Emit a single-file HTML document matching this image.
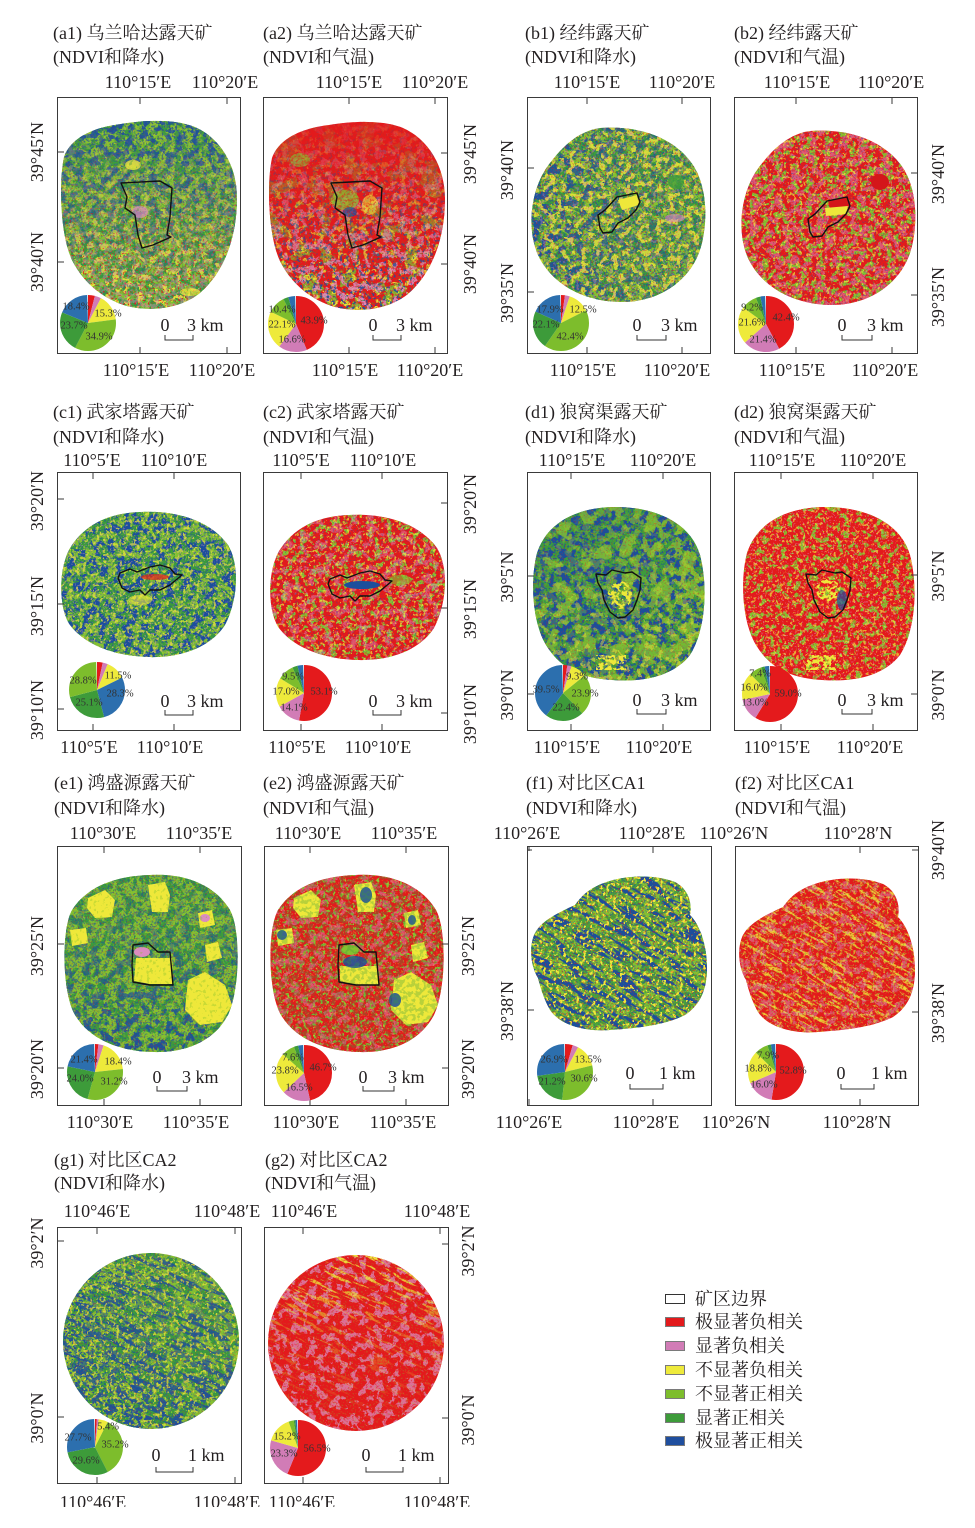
<!DOCTYPE html>
<html><head><meta charset="utf-8">
<style>
html,body{margin:0;padding:0;background:#fff}
svg{display:block}
text{font-family:"Liberation Serif","Noto Serif CJK SC",serif;font-size:18px;fill:#231f20}
.c{text-anchor:middle;dominant-baseline:central}
.l{dominant-baseline:central}
.p{font-size:10.5px;fill:#333;text-anchor:middle;dominant-baseline:central}
.fr{fill:none;stroke:#3a3a3a;stroke-width:1}
.tk{fill:none;stroke:#3a3a3a;stroke-width:1}
.mb{fill:none;stroke:#111;stroke-width:1.4;stroke-linejoin:round}
.sb{fill:none;stroke:#333;stroke-width:1}
</style></head><body>
<svg xmlns="http://www.w3.org/2000/svg" width="975" height="1528" viewBox="0 0 975 1528">
<defs>
<filter id="n1" x="0" y="0" width="1" height="1" color-interpolation-filters="sRGB"><feTurbulence type="fractalNoise" baseFrequency="0.12" numOctaves="4" seed="2"/><feColorMatrix type="matrix" values="0 0 0 0 0 0 0 0 0 0 0 0 0 0 0 30 0 0 0 -15" result="m"/><feComposite in="SourceGraphic" in2="m" operator="in"/></filter>
<filter id="n2" x="0" y="0" width="1" height="1" color-interpolation-filters="sRGB"><feTurbulence type="fractalNoise" baseFrequency="0.12" numOctaves="4" seed="2"/><feColorMatrix type="matrix" values="0 0 0 0 0 0 0 0 0 0 0 0 0 0 0 0 30 0 0 -16.2" result="m"/><feComposite in="SourceGraphic" in2="m" operator="in"/></filter>
<filter id="n3" x="0" y="0" width="1" height="1" color-interpolation-filters="sRGB"><feTurbulence type="fractalNoise" baseFrequency="0.16" numOctaves="3" seed="5"/><feColorMatrix type="matrix" values="0 0 0 0 0 0 0 0 0 0 0 0 0 0 0 0 0 30 0 -17.4" result="m"/><feComposite in="SourceGraphic" in2="m" operator="in"/></filter>
<filter id="n4" x="0" y="0" width="1" height="1" color-interpolation-filters="sRGB"><feTurbulence type="fractalNoise" baseFrequency="0.3" numOctaves="2" seed="9"/><feColorMatrix type="matrix" values="0 0 0 0 0 0 0 0 0 0 0 0 0 0 0 30 0 0 0 -18" result="m"/><feComposite in="SourceGraphic" in2="m" operator="in"/></filter>
<filter id="n5" x="0" y="0" width="1" height="1" color-interpolation-filters="sRGB"><feTurbulence type="fractalNoise" baseFrequency="0.05" numOctaves="4" seed="4"/><feColorMatrix type="matrix" values="0 0 0 0 0 0 0 0 0 0 0 0 0 0 0 0 30 0 0 -17.1" result="m"/><feComposite in="SourceGraphic" in2="m" operator="in"/></filter>
<filter id="n6" x="0" y="0" width="1" height="1" color-interpolation-filters="sRGB"><feTurbulence type="fractalNoise" baseFrequency="0.6" numOctaves="1" seed="12"/><feColorMatrix type="matrix" values="0 0 0 0 0 0 0 0 0 0 0 0 0 0 0 0 30 0 0 -18" result="m"/><feComposite in="SourceGraphic" in2="m" operator="in"/></filter>
<filter id="n8" x="0" y="0" width="1" height="1" color-interpolation-filters="sRGB"><feTurbulence type="fractalNoise" baseFrequency="0.25" numOctaves="3" seed="14"/><feColorMatrix type="matrix" values="0 0 0 0 0 0 0 0 0 0 0 0 0 0 0 0 0 30 0 -15" result="m"/><feComposite in="SourceGraphic" in2="m" operator="in"/></filter>
<filter id="n9" x="0" y="0" width="1" height="1" color-interpolation-filters="sRGB"><feTurbulence type="fractalNoise" baseFrequency="0.035 0.2" numOctaves="3" seed="21"/><feColorMatrix type="matrix" values="0 0 0 0 0 0 0 0 0 0 0 0 0 0 0 30 0 0 0 -16.2" result="m"/><feComposite in="SourceGraphic" in2="m" operator="in"/></filter>
<filter id="n10" x="0" y="0" width="1" height="1" color-interpolation-filters="sRGB"><feTurbulence type="fractalNoise" baseFrequency="0.035 0.2" numOctaves="3" seed="21"/><feColorMatrix type="matrix" values="0 0 0 0 0 0 0 0 0 0 0 0 0 0 0 0 30 0 0 -17.1" result="m"/><feComposite in="SourceGraphic" in2="m" operator="in"/></filter>
<filter id="n11" x="0" y="0" width="1" height="1" color-interpolation-filters="sRGB"><feTurbulence type="fractalNoise" baseFrequency="0.5" numOctaves="2" seed="31"/><feColorMatrix type="matrix" values="0 0 0 0 0 0 0 0 0 0 0 0 0 0 0 0 0 30 0 -16.8" result="m"/><feComposite in="SourceGraphic" in2="m" operator="in"/></filter>
<filter id="n12" x="0" y="0" width="1" height="1" color-interpolation-filters="sRGB"><feTurbulence type="fractalNoise" baseFrequency="0.04 0.28" numOctaves="3" seed="27"/><feColorMatrix type="matrix" values="0 0 0 0 0 0 0 0 0 0 0 0 0 0 0 30 0 0 0 -18" result="m"/><feComposite in="SourceGraphic" in2="m" operator="in"/></filter>

<linearGradient id="gT" x1="0" y1="0" x2="0" y2="1"><stop offset="0" stop-color="#fff"/><stop offset="1" stop-color="#111"/></linearGradient>
<linearGradient id="gB" x1="0" y1="0" x2="0" y2="1"><stop offset="0" stop-color="#111"/><stop offset="1" stop-color="#fff"/></linearGradient>
<linearGradient id="gL" x1="0" y1="0" x2="1" y2="0"><stop offset="0" stop-color="#fff"/><stop offset="1" stop-color="#222"/></linearGradient>
<linearGradient id="gR" x1="0" y1="0" x2="1" y2="0"><stop offset="0" stop-color="#222"/><stop offset="1" stop-color="#fff"/></linearGradient>
<linearGradient id="gG2" gradientUnits="userSpaceOnUse" x1="0" y1="1255" x2="0" y2="1431"><stop offset="0" stop-color="#fff"/><stop offset=".45" stop-color="#555"/><stop offset="1" stop-color="#000"/></linearGradient>
<mask id="mT" maskContentUnits="objectBoundingBox"><rect width="1" height="1" fill="url(#gT)"/></mask>
<mask id="mB" maskContentUnits="objectBoundingBox"><rect width="1" height="1" fill="url(#gB)"/></mask>
<mask id="mL" maskContentUnits="objectBoundingBox"><rect width="1" height="1" fill="url(#gL)"/></mask>
<mask id="mR" maskContentUnits="objectBoundingBox"><rect width="1" height="1" fill="url(#gR)"/></mask>
<mask id="mG2" maskUnits="userSpaceOnUse" x="200" y="1200" width="320" height="300"><rect x="200" y="1200" width="320" height="300" fill="url(#gG2)"/></mask>

<clipPath id="cA1"><path d="M121,124 C150,119 178,120 195,127 C220,138 237,165 237,198 C237,238 224,272 200,293 C180,309 150,312 127,306 C103,299 84,283 73,262 C61,240 58,185 64,157 C71,137 95,127 121,124 Z"/></clipPath>
<clipPath id="cA2"><path transform="translate(208,1)" d="M121,124 C150,119 178,120 195,127 C220,138 237,165 237,198 C237,238 224,272 200,293 C180,309 150,312 127,306 C103,299 84,283 73,262 C61,240 58,185 64,157 C71,137 95,127 121,124 Z"/></clipPath>
<clipPath id="cB1"><path d="M600,128 C640,125 675,138 693,165 C708,188 708,225 700,250 C690,280 660,302 622,302 C585,302 552,285 538,255 C527,230 530,195 545,170 C560,148 578,131 600,128 Z"/></clipPath>
<clipPath id="cB2"><path transform="translate(210,3)" d="M600,128 C640,125 675,138 693,165 C708,188 708,225 700,250 C690,280 660,302 622,302 C585,302 552,285 538,255 C527,230 530,195 545,170 C560,148 578,131 600,128 Z"/></clipPath>
<clipPath id="cC1"><path d="M140,512 C175,510 210,520 228,545 C240,565 238,600 225,625 C210,648 180,658 148,657 C115,656 85,645 70,625 C58,608 58,565 72,545 C88,522 112,513 140,512 Z"/></clipPath>
<clipPath id="cC2"><path transform="translate(209,3)" d="M140,512 C175,510 210,520 228,545 C240,565 238,600 225,625 C210,648 180,658 148,657 C115,656 85,645 70,625 C58,608 58,565 72,545 C88,522 112,513 140,512 Z"/></clipPath>
<clipPath id="cD1"><path d="M612,507 C650,506 690,520 700,555 C708,585 706,630 690,655 C672,678 640,682 612,680 C580,678 560,668 546,645 C532,622 530,580 537,553 C548,520 580,508 612,507 Z"/></clipPath>
<clipPath id="cD2"><path transform="translate(210,0)" d="M612,507 C650,506 690,520 700,555 C708,585 706,630 690,655 C672,678 640,682 612,680 C580,678 560,668 546,645 C532,622 530,580 537,553 C548,520 580,508 612,507 Z"/></clipPath>
<clipPath id="cE1"><path d="M150,875 C185,873 215,885 230,910 C241,930 240,990 228,1015 C212,1045 180,1053 152,1052 C120,1051 90,1040 75,1015 C62,993 61,930 72,910 C88,885 118,876 150,875 Z"/></clipPath>
<clipPath id="cE2"><path transform="translate(206,0)" d="M150,875 C185,873 215,885 230,910 C241,930 240,990 228,1015 C212,1045 180,1053 152,1052 C120,1051 90,1040 75,1015 C62,993 61,930 72,910 C88,885 118,876 150,875 Z"/></clipPath>
<clipPath id="cF1"><path d="M590,890 C610,876 650,872 675,882 C690,890 692,905 690,915 C700,925 707,945 707,968 C707,990 700,1005 685,1015 C665,1025 640,1028 610,1030 C585,1032 560,1025 550,1010 C542,995 540,985 538,978 C530,965 529,945 535,933 C542,920 560,912 575,905 C580,898 585,893 590,890 Z"/></clipPath>
<clipPath id="cF2"><path transform="translate(208,2)" d="M590,890 C610,876 650,872 675,882 C690,890 692,905 690,915 C700,925 707,945 707,968 C707,990 700,1005 685,1015 C665,1025 640,1028 610,1030 C585,1032 560,1025 550,1010 C542,995 540,985 538,978 C530,965 529,945 535,933 C542,920 560,912 575,905 C580,898 585,893 590,890 Z"/></clipPath>
<clipPath id="cG1"><circle cx="151" cy="1341" r="88"/></clipPath>
<clipPath id="cG2"><circle cx="356" cy="1343" r="88"/></clipPath>
</defs>

<rect width="975" height="1528" fill="#fff"/>

<!-- ================= MAPS ================= -->
<!-- a1 -->
<g clip-path="url(#cA1)">
<rect x="58" y="119" width="181" height="194" fill="#84c130"/>
<rect x="58" y="119" width="181" height="194" fill="#3c9c3c" filter="url(#n1)"/>
<rect x="58" y="119" width="181" height="194" fill="#1c4f9c" filter="url(#n2)" mask="url(#mT)"/>
<rect x="58" y="119" width="181" height="194" fill="#1c4f9c" filter="url(#n11)" mask="url(#mT)" opacity=".8"/>
<rect x="58" y="119" width="181" height="194" fill="#eee83a" filter="url(#n3)" mask="url(#mB)"/>
<rect x="58" y="119" width="181" height="194" fill="#e31a1c" filter="url(#n6)" mask="url(#mB)"/>
<rect x="58" y="119" width="181" height="194" fill="#db8cc0" filter="url(#n8)" mask="url(#mB)" opacity=".45"/>
<ellipse cx="133" cy="165" rx="8" ry="5" fill="#eee83a" opacity=".8"/>
<ellipse cx="140" cy="212" rx="8" ry="6" fill="#db8cc0" opacity=".7"/>
<ellipse cx="190" cy="292" rx="10" ry="4" fill="#eee83a" opacity=".7"/>
<rect x="58" y="119" width="181" height="194" fill="#3c9c3c" filter="url(#n4)" opacity=".35"/>
</g>
<path class="mb" d="M121,183 L160,181 L172,188 L170,217 L167,235 L171,237 L153,245 L142,248 L138,235 L135,215 L125,208 L127,197 Z"/>

<!-- a2 -->
<g clip-path="url(#cA2)">
<rect x="266" y="120" width="181" height="194" fill="#e31a1c"/>
<rect x="266" y="120" width="181" height="194" fill="#84c130" filter="url(#n5)" mask="url(#mB)"/>
<rect x="266" y="120" width="181" height="194" fill="#eee83a" filter="url(#n3)" mask="url(#mB)"/>
<rect x="266" y="120" width="181" height="194" fill="#db8cc0" filter="url(#n2)" mask="url(#mB)"/>
<rect x="266" y="120" width="181" height="194" fill="#1c4f9c" filter="url(#n4)" mask="url(#mB)"/>
<rect x="266" y="120" width="181" height="194" fill="#3c9c3c" filter="url(#n6)" mask="url(#mB)" opacity=".6"/>
<ellipse cx="345" cy="200" rx="14" ry="10" fill="#84c130" opacity=".7"/>
<ellipse cx="350" cy="212" rx="7" ry="5" fill="#1c4f9c" opacity=".7"/>
<ellipse cx="370" cy="205" rx="8" ry="10" fill="#eee83a" opacity=".6"/>
<ellipse cx="300" cy="160" rx="10" ry="7" fill="#84c130" opacity=".6"/>
<rect x="266" y="120" width="181" height="194" fill="#e31a1c" filter="url(#n11)" opacity=".5"/>
</g>
<path class="mb" transform="translate(210,0)" d="M121,183 L160,181 L172,188 L170,217 L167,235 L171,237 L153,245 L142,248 L138,235 L135,215 L125,208 L127,197 Z"/>

<!-- b1 -->
<g clip-path="url(#cB1)">
<rect x="528" y="124" width="182" height="181" fill="#84c130"/>
<rect x="528" y="124" width="182" height="181" fill="#3c9c3c" filter="url(#n1)"/>
<rect x="528" y="124" width="182" height="181" fill="#1c4f9c" filter="url(#n2)" mask="url(#mL)"/>
<rect x="528" y="124" width="182" height="181" fill="#1c4f9c" filter="url(#n11)" opacity=".6"/>
<rect x="528" y="124" width="182" height="181" fill="#eee83a" filter="url(#n3)" opacity=".8"/>
<rect x="528" y="124" width="182" height="181" fill="#e31a1c" filter="url(#n6)" opacity=".45"/>
<rect x="528" y="124" width="182" height="181" fill="#db8cc0" filter="url(#n4)" opacity=".35"/>
<polygon points="618,200 637,195 639,205 622,210" fill="#eee83a"/>
<ellipse cx="676" cy="182" rx="8" ry="7" fill="#3c9c3c" opacity=".8"/>
<ellipse cx="675" cy="218" rx="10" ry="4" fill="#db8cc0" opacity=".6"/>
</g>
<path class="mb" d="M598,215 L605,210 L617,197 L637,193 L640,202 L636,210 L628,218 L618,223 L612,232 L603,233 L600,228 Z"/>

<!-- b2 -->
<g clip-path="url(#cB2)">
<rect x="738" y="127" width="182" height="181" fill="#e31a1c"/>
<rect x="738" y="127" width="182" height="181" fill="#db8cc0" filter="url(#n1)" opacity=".55"/>
<rect x="738" y="127" width="182" height="181" fill="#84c130" filter="url(#n3)"/>
<rect x="738" y="127" width="182" height="181" fill="#eee83a" filter="url(#n4)" opacity=".7"/>
<rect x="738" y="127" width="182" height="181" fill="#1c4f9c" filter="url(#n6)" opacity=".4"/>
<rect x="738" y="127" width="182" height="181" fill="#e31a1c" filter="url(#n11)" opacity=".5"/>
<ellipse cx="880" cy="182" rx="9" ry="8" fill="#d4161a"/>
<polygon points="828,200 848,197 850,206 830,208" fill="#d4161a"/>
<polygon points="825,208 848,206 846,214 826,216" fill="#eee83a"/>
</g>
<path class="mb" transform="translate(210,4)" d="M598,215 L605,210 L617,197 L637,193 L640,202 L636,210 L628,218 L618,223 L612,232 L603,233 L600,228 Z"/>

<!-- c1 -->
<g clip-path="url(#cC1)">
<rect x="57" y="509" width="183" height="151" fill="#3c9c3c"/>
<rect x="57" y="509" width="183" height="151" fill="#1c4f9c" filter="url(#n1)"/>
<rect x="57" y="509" width="183" height="151" fill="#84c130" filter="url(#n2)"/>
<rect x="57" y="509" width="183" height="151" fill="#1c4f9c" filter="url(#n11)" opacity=".5"/>
<rect x="57" y="509" width="183" height="151" fill="#eee83a" filter="url(#n4)" opacity=".7"/>
<rect x="57" y="509" width="183" height="151" fill="#db8cc0" filter="url(#n6)" opacity=".4"/>
<ellipse cx="155" cy="577" rx="14" ry="3" fill="#e31a1c" opacity=".7"/>
<ellipse cx="140" cy="600" rx="12" ry="5" fill="#eee83a" opacity=".6"/>
</g>
<path class="mb" d="M120,573 L130,569 L137,572 L150,567 L160,565 L170,568 L175,574 L182,575 L170,585 L160,590 L150,590 L145,595 L140,590 L130,592 L122,588 L118,578 Z"/>

<!-- c2 -->
<g clip-path="url(#cC2)">
<rect x="266" y="512" width="183" height="151" fill="#e31a1c"/>
<rect x="266" y="512" width="183" height="151" fill="#84c130" filter="url(#n3)"/>
<rect x="266" y="512" width="183" height="151" fill="#db8cc0" filter="url(#n2)" opacity=".5"/>
<rect x="266" y="512" width="183" height="151" fill="#eee83a" filter="url(#n4)" opacity=".7"/>
<rect x="266" y="512" width="183" height="151" fill="#1c4f9c" filter="url(#n6)" opacity=".35"/>
<rect x="266" y="512" width="183" height="151" fill="#e31a1c" filter="url(#n11)" opacity=".5"/>
<ellipse cx="362" cy="585" rx="18" ry="4" fill="#1c4f9c"/>
<ellipse cx="400" cy="580" rx="12" ry="5" fill="#84c130" opacity=".6"/>
</g>
<path class="mb" transform="translate(210,6)" d="M120,573 L130,569 L137,572 L150,567 L160,565 L170,568 L175,574 L182,575 L170,585 L160,590 L150,590 L145,595 L140,590 L130,592 L122,588 L118,578 Z"/>

<!-- d1 -->
<g clip-path="url(#cD1)">
<rect x="530" y="505" width="180" height="178" fill="#3c9c3c"/>
<rect x="530" y="505" width="180" height="178" fill="#1c4f9c" filter="url(#n1)"/>
<rect x="530" y="505" width="180" height="178" fill="#1c4f9c" filter="url(#n11)" opacity=".7"/>
<rect x="530" y="505" width="180" height="178" fill="#84c130" filter="url(#n5)" opacity=".8"/>
<rect x="530" y="505" width="180" height="178" fill="#84c130" filter="url(#n2)" mask="url(#mR)"/>
<rect x="530" y="505" width="180" height="178" fill="#eee83a" filter="url(#n3)" mask="url(#mB)" opacity=".6"/>
<rect x="530" y="505" width="180" height="178" fill="#e31a1c" filter="url(#n6)" opacity=".3"/>
<ellipse cx="620" cy="595" rx="12" ry="14" fill="#eee83a" filter="url(#n8)"/>
<rect x="596" y="655" width="30" height="15" fill="#eee83a" filter="url(#n8)"/>
</g>
<path class="mb" d="M596,574 L606,575 L612,570 L625,573 L632,572 L641,578 L640,590 L637,600 L633,610 L625,617 L618,618 L610,612 L604,600 L602,590 L598,583 Z"/>

<!-- d2 -->
<g clip-path="url(#cD2)">
<rect x="740" y="505" width="180" height="178" fill="#e31a1c"/>
<rect x="740" y="505" width="180" height="178" fill="#84c130" filter="url(#n3)"/>
<rect x="740" y="505" width="180" height="178" fill="#eee83a" filter="url(#n4)" opacity=".7"/>
<rect x="740" y="505" width="180" height="178" fill="#db8cc0" filter="url(#n6)" opacity=".5"/>
<rect x="740" y="505" width="180" height="178" fill="#e31a1c" filter="url(#n11)" opacity=".5"/>
<ellipse cx="828" cy="590" rx="12" ry="11" fill="#eee83a" filter="url(#n8)"/>
<ellipse cx="842" cy="600" rx="5" ry="10" fill="#1c4f9c" opacity=".7"/>
<rect x="806" y="655" width="30" height="15" fill="#eee83a" filter="url(#n8)"/>
</g>
<path class="mb" transform="translate(210,0)" d="M596,574 L606,575 L612,570 L625,573 L632,572 L641,578 L640,590 L637,600 L633,610 L625,617 L618,618 L610,612 L604,600 L602,590 L598,583 Z"/>

<!-- e1 -->
<g clip-path="url(#cE1)">
<rect x="60" y="872" width="183" height="183" fill="#84c130"/>
<rect x="60" y="872" width="183" height="183" fill="#3c9c3c" filter="url(#n1)"/>
<rect x="60" y="872" width="183" height="183" fill="#1c4f9c" filter="url(#n2)" mask="url(#mB)"/>
<rect x="60" y="872" width="183" height="183" fill="#1c4f9c" filter="url(#n11)" opacity=".5"/>
<rect x="60" y="872" width="183" height="183" fill="#e31a1c" filter="url(#n6)" opacity=".3"/>
<g fill="#eee83a">
<polygon points="88,898 105,890 115,900 112,917 95,918 87,908"/>
<polygon points="148,885 165,882 170,895 168,912 152,912"/>
<polygon points="198,913 212,910 215,925 200,928"/>
<polygon points="70,930 86,928 88,943 72,946"/>
<polygon points="205,945 218,942 222,958 207,962"/>
<polygon points="188,980 205,972 225,985 232,1005 222,1022 200,1025 185,1010"/>
<polygon points="136,958 172,958 173,984 150,984 134,981"/>
</g>
<ellipse cx="142" cy="952" rx="8" ry="5" fill="#db8cc0"/>
<ellipse cx="205" cy="918" rx="5" ry="4" fill="#db8cc0"/>
<rect x="60" y="872" width="183" height="183" fill="#84c130" filter="url(#n4)" opacity=".35"/>
</g>
<path class="mb" d="M133,945 L148,943 L158,952 L170,952 L173,985 L150,985 L133,982 L132,965 Z"/>

<!-- e2 -->
<g clip-path="url(#cE2)">
<rect x="266" y="872" width="183" height="183" fill="#e31a1c"/>
<rect x="266" y="872" width="183" height="183" fill="#db8cc0" filter="url(#n2)" opacity=".5"/>
<rect x="266" y="872" width="183" height="183" fill="#84c130" filter="url(#n4)"/>
<rect x="266" y="872" width="183" height="183" fill="#eee83a" filter="url(#n6)" opacity=".35"/>
<rect x="266" y="872" width="183" height="183" fill="#e31a1c" filter="url(#n11)" opacity=".5"/>
<g fill="#eee83a">
<polygon points="294,898 311,890 321,900 318,917 301,918 293,908"/>
<polygon points="354,885 371,882 376,895 374,912 358,912"/>
<polygon points="404,913 418,910 421,925 406,928"/>
<polygon points="276,930 292,928 294,943 278,946"/>
<polygon points="411,945 424,942 428,958 413,962"/>
<polygon points="394,980 411,972 431,985 438,1005 428,1022 406,1025 391,1010"/>
<polygon points="340,966 378,966 379,985 356,985 340,981"/>
</g>
<g fill="#1c4f9c" opacity=".85">
<ellipse cx="355" cy="962" rx="12" ry="6"/>
<ellipse cx="366" cy="895" rx="6" ry="8"/>
<ellipse cx="412" cy="920" rx="4" ry="5"/>
<ellipse cx="282" cy="935" rx="5" ry="5"/>
<ellipse cx="395" cy="1000" rx="6" ry="7"/>
</g>
<ellipse cx="350" cy="950" rx="9" ry="5" fill="#84c130"/>
<rect x="266" y="872" width="183" height="183" fill="#3c9c3c" filter="url(#n8)" opacity=".3"/>
</g>
<path class="mb" transform="translate(206,0)" d="M133,945 L148,943 L158,952 L170,952 L173,985 L150,985 L133,982 L132,965 Z"/>

<!-- f1 -->
<g clip-path="url(#cF1)">
<rect x="527" y="871" width="183" height="163" fill="#84c130"/>
<rect x="527" y="871" width="183" height="163" fill="#3c9c3c" filter="url(#n1)" opacity=".8"/>
<rect x="490" y="830" width="260" height="250" fill="#1c4f9c" filter="url(#n9)" transform="rotate(30 620 953)"/>
<rect x="527" y="871" width="183" height="163" fill="#1c4f9c" filter="url(#n11)" opacity=".5"/>
<rect x="527" y="871" width="183" height="163" fill="#eee83a" filter="url(#n4)"/>
<rect x="527" y="871" width="183" height="163" fill="#e31a1c" filter="url(#n6)" opacity=".45"/>
</g>

<!-- f2 -->
<g clip-path="url(#cF2)">
<rect x="735" y="873" width="183" height="163" fill="#e31a1c"/>
<rect x="700" y="830" width="260" height="250" fill="#eee83a" filter="url(#n12)" transform="rotate(30 828 955)" opacity=".8"/>
<rect x="735" y="873" width="183" height="163" fill="#db8cc0" filter="url(#n2)" opacity=".5"/>
<rect x="735" y="873" width="183" height="163" fill="#eee83a" filter="url(#n4)" opacity=".6"/>
<rect x="735" y="873" width="183" height="163" fill="#84c130" filter="url(#n6)" opacity=".5"/>
<rect x="735" y="873" width="183" height="163" fill="#e31a1c" filter="url(#n11)" opacity=".6"/>
</g>

<!-- g1 -->
<g clip-path="url(#cG1)">
<rect x="63" y="1253" width="176" height="176" fill="#84c130"/>
<rect x="63" y="1253" width="176" height="176" fill="#1c4f9c" filter="url(#n1)" mask="url(#mB)"/>
<rect x="63" y="1253" width="176" height="176" fill="#3c9c3c" filter="url(#n2)"/>
<rect x="20" y="1210" width="260" height="260" fill="#1c4f9c" filter="url(#n10)" transform="rotate(25 151 1341)" opacity=".8"/>
<rect x="63" y="1253" width="176" height="176" fill="#1c4f9c" filter="url(#n11)" mask="url(#mL)"/>
<rect x="63" y="1253" width="176" height="176" fill="#eee83a" filter="url(#n4)" opacity=".7"/>
<rect x="63" y="1253" width="176" height="176" fill="#e31a1c" filter="url(#n6)" opacity=".25"/>
</g>

<!-- g2 -->
<g clip-path="url(#cG2)">
<rect x="268" y="1255" width="176" height="176" fill="#e31a1c"/>
<rect x="268" y="1255" width="176" height="176" fill="#db8cc0" filter="url(#n2)" opacity=".75"/>
<g mask="url(#mG2)"><rect x="225" y="1212" width="260" height="260" fill="#eee83a" filter="url(#n12)" transform="rotate(25 356 1343)"/></g>
<rect x="268" y="1255" width="176" height="176" fill="#84c130" filter="url(#n6)" opacity=".3"/>
<rect x="268" y="1255" width="176" height="176" fill="#e31a1c" filter="url(#n11)" opacity=".5"/>
</g>

<!-- ================= FRAMES & TICKS ================= -->
<rect class="fr" x="57.5" y="97.5" width="183" height="256"/>
<path class="tk" d="M140,98v6M227,98v6M140,353v-6M227,353v-6M58,152h6M58,262h6"/>
<rect class="fr" x="263.5" y="97.5" width="184" height="256"/>
<path class="tk" d="M349,98v6M435,98v6M349,353v-6M435,353v-6M447,153h-6M447,264h-6"/>
<rect class="fr" x="527.5" y="97.5" width="183" height="256"/>
<path class="tk" d="M587,98v6M682,98v6M587,353v-6M682,353v-6M528,168h6M528,292h6"/>
<rect class="fr" x="734.5" y="97.5" width="183" height="256"/>
<path class="tk" d="M796,98v6M892,98v6M796,353v-6M892,353v-6M917,173h-6M917,295h-6"/>

<rect class="fr" x="57.5" y="472.5" width="183" height="258"/>
<path class="tk" d="M93,473v6M174,473v6M93,730v-6M174,730v-6M58,499h6M58,604h6M58,709h6"/>
<rect class="fr" x="263.5" y="472.5" width="184" height="258"/>
<path class="tk" d="M301,473v6M382,473v6M301,730v-6M382,730v-6M447,503h-6M447,608h-6M447,713h-6"/>
<rect class="fr" x="527.5" y="472.5" width="183" height="258"/>
<path class="tk" d="M571,473v6M663,473v6M571,730v-6M663,730v-6M528,576h6M528,694h6"/>
<rect class="fr" x="734.5" y="472.5" width="183" height="258"/>
<path class="tk" d="M781,473v6M873,473v6M781,730v-6M873,730v-6M917,575h-6M917,694h-6"/>

<rect class="fr" x="57.5" y="846.5" width="184" height="259"/>
<path class="tk" d="M104,847v6M200,847v6M104,1105v-6M200,1105v-6M58,944h6M58,1068h6"/>
<rect class="fr" x="264.5" y="846.5" width="184" height="259"/>
<path class="tk" d="M310,847v6M406,847v6M310,1105v-6M406,1105v-6M448,944h-6M448,1068h-6"/>
<rect class="fr" x="527.5" y="846.5" width="184" height="259"/>
<path class="tk" d="M529,847v4M653,847v6M529,1105v-6M653,1105v-6M528,850h4M528,1010h6"/>
<rect class="fr" x="735.5" y="846.5" width="183" height="259"/>
<path class="tk" d="M860,847v6M860,1105v-6M918,850h-6M918,1012h-6"/>

<rect class="fr" x="57.5" y="1227.5" width="184" height="256"/>
<path class="tk" d="M97,1228v6M235,1228v6M97,1483v-6M235,1483v-6M58,1241h6M58,1417h6"/>
<rect class="fr" x="264.5" y="1227.5" width="184" height="256"/>
<path class="tk" d="M303,1228v6M440,1228v6M303,1483v-6M440,1483v-6M448,1244h-6M448,1418h-6"/>

<!-- ================= PIES ================= -->
<g fill="none" stroke-width="28">
<g transform="rotate(-90 88 323)">
<circle cx="88" cy="323" r="14" pathLength="100" stroke="#e41a1c" stroke-dasharray="4 100" stroke-dashoffset="0"/>
<circle cx="88" cy="323" r="14" pathLength="100" stroke="#d17cb6" stroke-dasharray="3.7 100" stroke-dashoffset="-4"/>
<circle cx="88" cy="323" r="14" pathLength="100" stroke="#eeea3b" stroke-dasharray="15.3 100" stroke-dashoffset="-7.7"/>
<circle cx="88" cy="323" r="14" pathLength="100" stroke="#7dbd2c" stroke-dasharray="34.9 100" stroke-dashoffset="-23"/>
<circle cx="88" cy="323" r="14" pathLength="100" stroke="#3d9b3a" stroke-dasharray="23.7 100" stroke-dashoffset="-57.9"/>
<circle cx="88" cy="323" r="14" pathLength="100" stroke="#2c6fae" stroke-dasharray="18.4 100" stroke-dashoffset="-81.6"/>
</g>
<g transform="rotate(-90 296 324)">
<circle cx="296" cy="324" r="14" pathLength="100" stroke="#e41a1c" stroke-dasharray="43.9 100" stroke-dashoffset="0"/>
<circle cx="296" cy="324" r="14" pathLength="100" stroke="#d17cb6" stroke-dasharray="16.6 100" stroke-dashoffset="-43.9"/>
<circle cx="296" cy="324" r="14" pathLength="100" stroke="#eeea3b" stroke-dasharray="22.1 100" stroke-dashoffset="-60.5"/>
<circle cx="296" cy="324" r="14" pathLength="100" stroke="#7dbd2c" stroke-dasharray="10.4 100" stroke-dashoffset="-82.6"/>
<circle cx="296" cy="324" r="14" pathLength="100" stroke="#3d9b3a" stroke-dasharray="3 100" stroke-dashoffset="-93"/>
<circle cx="296" cy="324" r="14" pathLength="100" stroke="#2c6fae" stroke-dasharray="4 100" stroke-dashoffset="-96"/>
</g>
<g transform="rotate(-90 561 323)">
<circle cx="561" cy="323" r="14" pathLength="100" stroke="#e41a1c" stroke-dasharray="2.3 100" stroke-dashoffset="0"/>
<circle cx="561" cy="323" r="14" pathLength="100" stroke="#d17cb6" stroke-dasharray="2.8 100" stroke-dashoffset="-2.3"/>
<circle cx="561" cy="323" r="14" pathLength="100" stroke="#eeea3b" stroke-dasharray="12.5 100" stroke-dashoffset="-5.1"/>
<circle cx="561" cy="323" r="14" pathLength="100" stroke="#7dbd2c" stroke-dasharray="42.4 100" stroke-dashoffset="-17.6"/>
<circle cx="561" cy="323" r="14" pathLength="100" stroke="#3d9b3a" stroke-dasharray="22.1 100" stroke-dashoffset="-60"/>
<circle cx="561" cy="323" r="14" pathLength="100" stroke="#2c6fae" stroke-dasharray="17.9 100" stroke-dashoffset="-82.1"/>
</g>
<g transform="rotate(-90 766 324)">
<circle cx="766" cy="324" r="14" pathLength="100" stroke="#e41a1c" stroke-dasharray="42.4 100" stroke-dashoffset="0"/>
<circle cx="766" cy="324" r="14" pathLength="100" stroke="#d17cb6" stroke-dasharray="21.4 100" stroke-dashoffset="-42.4"/>
<circle cx="766" cy="324" r="14" pathLength="100" stroke="#eeea3b" stroke-dasharray="21.6 100" stroke-dashoffset="-63.8"/>
<circle cx="766" cy="324" r="14" pathLength="100" stroke="#7dbd2c" stroke-dasharray="9.2 100" stroke-dashoffset="-85.4"/>
<circle cx="766" cy="324" r="14" pathLength="100" stroke="#3d9b3a" stroke-dasharray="2.6 100" stroke-dashoffset="-94.6"/>
<circle cx="766" cy="324" r="14" pathLength="100" stroke="#2c6fae" stroke-dasharray="2.8 100" stroke-dashoffset="-97.2"/>
</g>
<g transform="rotate(-90 97 690)">
<circle cx="97" cy="690" r="14" pathLength="100" stroke="#e41a1c" stroke-dasharray="3.3 100" stroke-dashoffset="0"/>
<circle cx="97" cy="690" r="14" pathLength="100" stroke="#d17cb6" stroke-dasharray="3 100" stroke-dashoffset="-3.3"/>
<circle cx="97" cy="690" r="14" pathLength="100" stroke="#eeea3b" stroke-dasharray="11.5 100" stroke-dashoffset="-6.3"/>
<circle cx="97" cy="690" r="14" pathLength="100" stroke="#2c6fae" stroke-dasharray="28.3 100" stroke-dashoffset="-17.8"/>
<circle cx="97" cy="690" r="14" pathLength="100" stroke="#3d9b3a" stroke-dasharray="25.1 100" stroke-dashoffset="-46.1"/>
<circle cx="97" cy="690" r="14" pathLength="100" stroke="#7dbd2c" stroke-dasharray="28.8 100" stroke-dashoffset="-71.2"/>
</g>
<g transform="rotate(-90 304 693)">
<circle cx="304" cy="693" r="14" pathLength="100" stroke="#e41a1c" stroke-dasharray="53.1 100" stroke-dashoffset="0"/>
<circle cx="304" cy="693" r="14" pathLength="100" stroke="#d17cb6" stroke-dasharray="14.1 100" stroke-dashoffset="-53.1"/>
<circle cx="304" cy="693" r="14" pathLength="100" stroke="#eeea3b" stroke-dasharray="17 100" stroke-dashoffset="-67.2"/>
<circle cx="304" cy="693" r="14" pathLength="100" stroke="#7dbd2c" stroke-dasharray="9.5 100" stroke-dashoffset="-84.2"/>
<circle cx="304" cy="693" r="14" pathLength="100" stroke="#3d9b3a" stroke-dasharray="3 100" stroke-dashoffset="-93.7"/>
<circle cx="304" cy="693" r="14" pathLength="100" stroke="#2c6fae" stroke-dasharray="3.3 100" stroke-dashoffset="-96.7"/>
</g>
<g transform="rotate(-90 563 693)">
<circle cx="563" cy="693" r="14" pathLength="100" stroke="#e41a1c" stroke-dasharray="2.5 100" stroke-dashoffset="0"/>
<circle cx="563" cy="693" r="14" pathLength="100" stroke="#d17cb6" stroke-dasharray="2.4 100" stroke-dashoffset="-2.5"/>
<circle cx="563" cy="693" r="14" pathLength="100" stroke="#eeea3b" stroke-dasharray="9.3 100" stroke-dashoffset="-4.9"/>
<circle cx="563" cy="693" r="14" pathLength="100" stroke="#7dbd2c" stroke-dasharray="23.9 100" stroke-dashoffset="-14.2"/>
<circle cx="563" cy="693" r="14" pathLength="100" stroke="#3d9b3a" stroke-dasharray="22.4 100" stroke-dashoffset="-38.1"/>
<circle cx="563" cy="693" r="14" pathLength="100" stroke="#2c6fae" stroke-dasharray="39.5 100" stroke-dashoffset="-60.5"/>
</g>
<g transform="rotate(-90 770 694)">
<circle cx="770" cy="694" r="14" pathLength="100" stroke="#e41a1c" stroke-dasharray="59 100" stroke-dashoffset="0"/>
<circle cx="770" cy="694" r="14" pathLength="100" stroke="#d17cb6" stroke-dasharray="13 100" stroke-dashoffset="-59"/>
<circle cx="770" cy="694" r="14" pathLength="100" stroke="#eeea3b" stroke-dasharray="16 100" stroke-dashoffset="-72"/>
<circle cx="770" cy="694" r="14" pathLength="100" stroke="#7dbd2c" stroke-dasharray="7.4 100" stroke-dashoffset="-88"/>
<circle cx="770" cy="694" r="14" pathLength="100" stroke="#3d9b3a" stroke-dasharray="2 100" stroke-dashoffset="-95.4"/>
<circle cx="770" cy="694" r="14" pathLength="100" stroke="#2c6fae" stroke-dasharray="2.6 100" stroke-dashoffset="-97.4"/>
</g>
<g transform="rotate(-90 95 1072)">
<circle cx="95" cy="1072" r="14" pathLength="100" stroke="#e41a1c" stroke-dasharray="2 100" stroke-dashoffset="0"/>
<circle cx="95" cy="1072" r="14" pathLength="100" stroke="#d17cb6" stroke-dasharray="3 100" stroke-dashoffset="-2"/>
<circle cx="95" cy="1072" r="14" pathLength="100" stroke="#eeea3b" stroke-dasharray="18.4 100" stroke-dashoffset="-5"/>
<circle cx="95" cy="1072" r="14" pathLength="100" stroke="#7dbd2c" stroke-dasharray="31.2 100" stroke-dashoffset="-23.4"/>
<circle cx="95" cy="1072" r="14" pathLength="100" stroke="#3d9b3a" stroke-dasharray="24 100" stroke-dashoffset="-54.6"/>
<circle cx="95" cy="1072" r="14" pathLength="100" stroke="#2c6fae" stroke-dasharray="21.4 100" stroke-dashoffset="-78.6"/>
</g>
<g transform="rotate(-90 304 1073)">
<circle cx="304" cy="1073" r="14" pathLength="100" stroke="#e41a1c" stroke-dasharray="46.7 100" stroke-dashoffset="0"/>
<circle cx="304" cy="1073" r="14" pathLength="100" stroke="#d17cb6" stroke-dasharray="16.5 100" stroke-dashoffset="-46.7"/>
<circle cx="304" cy="1073" r="14" pathLength="100" stroke="#eeea3b" stroke-dasharray="23.8 100" stroke-dashoffset="-63.2"/>
<circle cx="304" cy="1073" r="14" pathLength="100" stroke="#7dbd2c" stroke-dasharray="7.6 100" stroke-dashoffset="-87"/>
<circle cx="304" cy="1073" r="14" pathLength="100" stroke="#3d9b3a" stroke-dasharray="2.5 100" stroke-dashoffset="-94.6"/>
<circle cx="304" cy="1073" r="14" pathLength="100" stroke="#2c6fae" stroke-dasharray="2.9 100" stroke-dashoffset="-97.1"/>
</g>
<g transform="rotate(-90 565 1072)">
<circle cx="565" cy="1072" r="14" pathLength="100" stroke="#e41a1c" stroke-dasharray="4.5 100" stroke-dashoffset="0"/>
<circle cx="565" cy="1072" r="14" pathLength="100" stroke="#d17cb6" stroke-dasharray="3.3 100" stroke-dashoffset="-4.5"/>
<circle cx="565" cy="1072" r="14" pathLength="100" stroke="#eeea3b" stroke-dasharray="13.5 100" stroke-dashoffset="-7.8"/>
<circle cx="565" cy="1072" r="14" pathLength="100" stroke="#7dbd2c" stroke-dasharray="30.6 100" stroke-dashoffset="-21.3"/>
<circle cx="565" cy="1072" r="14" pathLength="100" stroke="#3d9b3a" stroke-dasharray="21.2 100" stroke-dashoffset="-51.9"/>
<circle cx="565" cy="1072" r="14" pathLength="100" stroke="#2c6fae" stroke-dasharray="26.9 100" stroke-dashoffset="-73.1"/>
</g>
<g transform="rotate(-90 776 1072)">
<circle cx="776" cy="1072" r="14" pathLength="100" stroke="#e41a1c" stroke-dasharray="52.8 100" stroke-dashoffset="0"/>
<circle cx="776" cy="1072" r="14" pathLength="100" stroke="#d17cb6" stroke-dasharray="16 100" stroke-dashoffset="-52.8"/>
<circle cx="776" cy="1072" r="14" pathLength="100" stroke="#eeea3b" stroke-dasharray="18.8 100" stroke-dashoffset="-68.8"/>
<circle cx="776" cy="1072" r="14" pathLength="100" stroke="#7dbd2c" stroke-dasharray="7.9 100" stroke-dashoffset="-87.6"/>
<circle cx="776" cy="1072" r="14" pathLength="100" stroke="#3d9b3a" stroke-dasharray="2 100" stroke-dashoffset="-95.5"/>
<circle cx="776" cy="1072" r="14" pathLength="100" stroke="#2c6fae" stroke-dasharray="2.5 100" stroke-dashoffset="-97.5"/>
</g>
<g transform="rotate(-90 95 1447)">
<circle cx="95" cy="1447" r="14" pathLength="100" stroke="#e41a1c" stroke-dasharray="1.1 100" stroke-dashoffset="0"/>
<circle cx="95" cy="1447" r="14" pathLength="100" stroke="#d17cb6" stroke-dasharray="1 100" stroke-dashoffset="-1.1"/>
<circle cx="95" cy="1447" r="14" pathLength="100" stroke="#eeea3b" stroke-dasharray="5.4 100" stroke-dashoffset="-2.1"/>
<circle cx="95" cy="1447" r="14" pathLength="100" stroke="#7dbd2c" stroke-dasharray="35.2 100" stroke-dashoffset="-7.5"/>
<circle cx="95" cy="1447" r="14" pathLength="100" stroke="#3d9b3a" stroke-dasharray="29.6 100" stroke-dashoffset="-42.7"/>
<circle cx="95" cy="1447" r="14" pathLength="100" stroke="#2c6fae" stroke-dasharray="27.7 100" stroke-dashoffset="-72.3"/>
</g>
<g transform="rotate(-90 298 1448)">
<circle cx="298" cy="1448" r="14" pathLength="100" stroke="#e41a1c" stroke-dasharray="56.5 100" stroke-dashoffset="0"/>
<circle cx="298" cy="1448" r="14" pathLength="100" stroke="#d17cb6" stroke-dasharray="23.3 100" stroke-dashoffset="-56.5"/>
<circle cx="298" cy="1448" r="14" pathLength="100" stroke="#eeea3b" stroke-dasharray="15.2 100" stroke-dashoffset="-79.8"/>
<circle cx="298" cy="1448" r="14" pathLength="100" stroke="#7dbd2c" stroke-dasharray="3 100" stroke-dashoffset="-95"/>
<circle cx="298" cy="1448" r="14" pathLength="100" stroke="#3d9b3a" stroke-dasharray="1 100" stroke-dashoffset="-98"/>
<circle cx="298" cy="1448" r="14" pathLength="100" stroke="#2c6fae" stroke-dasharray="1 100" stroke-dashoffset="-99"/>
</g>
</g>

<!-- pie labels -->
<text class="p" x="76" y="307">18.4%</text><text class="p" x="108" y="314">15.3%</text><text class="p" x="74" y="326">23.7%</text><text class="p" x="99" y="337">34.9%</text>
<text class="p" x="282" y="310">10.4%</text><text class="p" x="314" y="321">43.9%</text><text class="p" x="282" y="325">22.1%</text><text class="p" x="292" y="340">16.6%</text>
<text class="p" x="550" y="310">17.9%</text><text class="p" x="583" y="310">12.5%</text><text class="p" x="546" y="325">22.1%</text><text class="p" x="570" y="337">42.4%</text>
<text class="p" x="752" y="308">9.2%</text><text class="p" x="786" y="318">42.4%</text><text class="p" x="752" y="323">21.6%</text><text class="p" x="763" y="340">21.4%</text>
<text class="p" x="83" y="681">28.8%</text><text class="p" x="118" y="676">11.5%</text><text class="p" x="120" y="694">28.3%</text><text class="p" x="89" y="703">25.1%</text>
<text class="p" x="293" y="677">9.5%</text><text class="p" x="324" y="692">53.1%</text><text class="p" x="286" y="692">17.0%</text><text class="p" x="294" y="708">14.1%</text>
<text class="p" x="577" y="677">9.3%</text><text class="p" x="546" y="690">39.5%</text><text class="p" x="585" y="694">23.9%</text><text class="p" x="566" y="708">22.4%</text>
<text class="p" x="760" y="674">7.4%</text><text class="p" x="754" y="688">16.0%</text><text class="p" x="788" y="694">59.0%</text><text class="p" x="755" y="703">13.0%</text>
<text class="p" x="84" y="1060">21.4%</text><text class="p" x="118" y="1062">18.4%</text><text class="p" x="80" y="1079">24.0%</text><text class="p" x="114" y="1082">31.2%</text>
<text class="p" x="293" y="1058">7.6%</text><text class="p" x="323" y="1068">46.7%</text><text class="p" x="285" y="1071">23.8%</text><text class="p" x="299" y="1088">16.5%</text>
<text class="p" x="554" y="1060">26.9%</text><text class="p" x="588" y="1060">13.5%</text><text class="p" x="552" y="1082">21.2%</text><text class="p" x="584" y="1079">30.6%</text>
<text class="p" x="768" y="1056">7.9%</text><text class="p" x="758" y="1069">18.8%</text><text class="p" x="793" y="1071">52.8%</text><text class="p" x="764" y="1085">16.0%</text>
<text class="p" x="108" y="1427">5.4%</text><text class="p" x="78" y="1438">27.7%</text><text class="p" x="115" y="1445">35.2%</text><text class="p" x="86" y="1461">29.6%</text>
<text class="p" x="287" y="1437">15.2%</text><text class="p" x="317" y="1449">56.5%</text><text class="p" x="284" y="1454">23.3%</text>

<!-- ================= SCALE BARS ================= -->
<path class="sb" d="M165,335v5h28v-5M373,335v5h28v-5M637,335v5h29v-5M842,335v5h30v-5"/>
<path class="sb" d="M165,710v5h28v-5M373,710v5h28v-5M637,709v5h29v-5M842,709v5h30v-5"/>
<path class="sb" d="M157,1086v5h30v-5M363,1086v5h31v-5M630,1084v5h33v-5M841,1084v5h33v-5"/>
<path class="sb" d="M156,1467v5h37v-5M366,1467v5h37v-5"/>
<text class="c" x="165" y="325">0</text><text class="l" x="187" y="325">3 km</text>
<text class="c" x="373" y="325">0</text><text class="l" x="396" y="325">3 km</text>
<text class="c" x="637" y="325">0</text><text class="l" x="661" y="325">3 km</text>
<text class="c" x="842" y="325">0</text><text class="l" x="867" y="325">3 km</text>
<text class="c" x="165" y="701">0</text><text class="l" x="187" y="701">3 km</text>
<text class="c" x="373" y="701">0</text><text class="l" x="396" y="701">3 km</text>
<text class="c" x="637" y="700">0</text><text class="l" x="661" y="700">3 km</text>
<text class="c" x="842" y="700">0</text><text class="l" x="867" y="700">3 km</text>
<text class="c" x="157" y="1077">0</text><text class="l" x="182" y="1077">3 km</text>
<text class="c" x="363" y="1077">0</text><text class="l" x="388" y="1077">3 km</text>
<text class="c" x="630" y="1073">0</text><text class="l" x="659" y="1073">1 km</text>
<text class="c" x="841" y="1073">0</text><text class="l" x="871" y="1073">1 km</text>
<text class="c" x="156" y="1455">0</text><text class="l" x="188" y="1455">1 km</text>
<text class="c" x="366" y="1455">0</text><text class="l" x="398" y="1455">1 km</text>

<!-- ================= TITLES ================= -->
<text class="l" x="53" y="33">(a1) 乌兰哈达露天矿</text><text class="l" x="53" y="57">(NDVI和降水)</text>
<text class="l" x="263" y="33">(a2) 乌兰哈达露天矿</text><text class="l" x="263" y="57">(NDVI和气温)</text>
<text class="l" x="525" y="33">(b1) 经纬露天矿</text><text class="l" x="525" y="57">(NDVI和降水)</text>
<text class="l" x="734" y="33">(b2) 经纬露天矿</text><text class="l" x="734" y="57">(NDVI和气温)</text>
<text class="l" x="53" y="412">(c1) 武家塔露天矿</text><text class="l" x="53" y="437">(NDVI和降水)</text>
<text class="l" x="263" y="412">(c2) 武家塔露天矿</text><text class="l" x="263" y="437">(NDVI和气温)</text>
<text class="l" x="525" y="412">(d1) 狼窝渠露天矿</text><text class="l" x="525" y="437">(NDVI和降水)</text>
<text class="l" x="734" y="412">(d2) 狼窝渠露天矿</text><text class="l" x="734" y="437">(NDVI和气温)</text>
<text class="l" x="54" y="783">(e1) 鸿盛源露天矿</text><text class="l" x="54" y="808">(NDVI和降水)</text>
<text class="l" x="263" y="783">(e2) 鸿盛源露天矿</text><text class="l" x="263" y="808">(NDVI和气温)</text>
<text class="l" x="526" y="783">(f1) 对比区CA1</text><text class="l" x="526" y="808">(NDVI和降水)</text>
<text class="l" x="735" y="783">(f2) 对比区CA1</text><text class="l" x="735" y="808">(NDVI和气温)</text>
<text class="l" x="54" y="1160">(g1) 对比区CA2</text><text class="l" x="54" y="1183">(NDVI和降水)</text>
<text class="l" x="265" y="1160">(g2) 对比区CA2</text><text class="l" x="265" y="1183">(NDVI和气温)</text>

<!-- ================= AXIS LABELS ================= -->
<text class="c" x="138" y="82">110°15′E</text><text class="c" x="225" y="82">110°20′E</text>
<text class="c" x="136" y="370">110°15′E</text><text class="c" x="222" y="370">110°20′E</text>
<text class="c" x="37" y="152" transform="rotate(-90 37 152)">39°45′N</text><text class="c" x="37" y="262" transform="rotate(-90 37 262)">39°40′N</text>
<text class="c" x="349" y="82">110°15′E</text><text class="c" x="435" y="82">110°20′E</text>
<text class="c" x="345" y="370">110°15′E</text><text class="c" x="430" y="370">110°20′E</text>
<text class="c" x="470" y="154" transform="rotate(-90 470 154)">39°45′N</text><text class="c" x="470" y="264" transform="rotate(-90 470 264)">39°40′N</text>
<text class="c" x="587" y="82">110°15′E</text><text class="c" x="682" y="82">110°20′E</text>
<text class="c" x="583" y="370">110°15′E</text><text class="c" x="677" y="370">110°20′E</text>
<text class="c" x="507" y="170" transform="rotate(-90 507 170)">39°40′N</text><text class="c" x="507" y="293" transform="rotate(-90 507 293)">39°35′N</text>
<text class="c" x="797" y="82">110°15′E</text><text class="c" x="891" y="82">110°20′E</text>
<text class="c" x="792" y="370">110°15′E</text><text class="c" x="885" y="370">110°20′E</text>
<text class="c" x="938" y="174" transform="rotate(-90 938 174)">39°40′N</text><text class="c" x="938" y="297" transform="rotate(-90 938 297)">39°35′N</text>

<text class="c" x="92" y="460">110°5′E</text><text class="c" x="174" y="460">110°10′E</text>
<text class="c" x="89" y="747">110°5′E</text><text class="c" x="170" y="747">110°10′E</text>
<text class="c" x="37" y="501" transform="rotate(-90 37 501)">39°20′N</text><text class="c" x="37" y="606" transform="rotate(-90 37 606)">39°15′N</text><text class="c" x="37" y="710" transform="rotate(-90 37 710)">39°10′N</text>
<text class="c" x="301" y="460">110°5′E</text><text class="c" x="383" y="460">110°10′E</text>
<text class="c" x="297" y="747">110°5′E</text><text class="c" x="378" y="747">110°10′E</text>
<text class="c" x="470" y="504" transform="rotate(-90 470 504)">39°20′N</text><text class="c" x="470" y="609" transform="rotate(-90 470 609)">39°15′N</text><text class="c" x="470" y="714" transform="rotate(-90 470 714)">39°10′N</text>
<text class="c" x="572" y="460">110°15′E</text><text class="c" x="663" y="460">110°20′E</text>
<text class="c" x="567" y="747">110°15′E</text><text class="c" x="659" y="747">110°20′E</text>
<text class="c" x="507" y="577" transform="rotate(-90 507 577)">39°5′N</text><text class="c" x="507" y="695" transform="rotate(-90 507 695)">39°0′N</text>
<text class="c" x="782" y="460">110°15′E</text><text class="c" x="873" y="460">110°20′E</text>
<text class="c" x="777" y="747">110°15′E</text><text class="c" x="870" y="747">110°20′E</text>
<text class="c" x="938" y="576" transform="rotate(-90 938 576)">39°5′N</text><text class="c" x="938" y="695" transform="rotate(-90 938 695)">39°0′N</text>

<text class="c" x="103" y="833">110°30′E</text><text class="c" x="199" y="833">110°35′E</text>
<text class="c" x="100" y="1122">110°30′E</text><text class="c" x="196" y="1122">110°35′E</text>
<text class="c" x="37" y="946" transform="rotate(-90 37 946)">39°25′N</text><text class="c" x="37" y="1069" transform="rotate(-90 37 1069)">39°20′N</text>
<text class="c" x="308" y="833">110°30′E</text><text class="c" x="404" y="833">110°35′E</text>
<text class="c" x="306" y="1122">110°30′E</text><text class="c" x="403" y="1122">110°35′E</text>
<text class="c" x="468" y="946" transform="rotate(-90 468 946)">39°25′N</text><text class="c" x="468" y="1069" transform="rotate(-90 468 1069)">39°20′N</text>
<text class="c" x="527" y="833">110°26′E</text><text class="c" x="652" y="833">110°28′E</text>
<text class="c" x="529" y="1122">110°26′E</text><text class="c" x="646" y="1122">110°28′E</text>
<text class="c" x="507" y="1011" transform="rotate(-90 507 1011)">39°38′N</text>
<text class="c" x="734" y="833">110°26′N</text><text class="c" x="858" y="833">110°28′N</text>
<text class="c" x="736" y="1122">110°26′N</text><text class="c" x="857" y="1122">110°28′N</text>
<text class="c" x="938" y="850" transform="rotate(-90 938 850)">39°40′N</text><text class="c" x="938" y="1013" transform="rotate(-90 938 1013)">39°38′N</text>

<text class="c" x="97" y="1211">110°46′E</text><text class="c" x="227" y="1211">110°48′E</text>
<text class="c" x="304" y="1211">110°46′E</text><text class="c" x="437" y="1211">110°48′E</text>
<text class="c" x="37" y="1243" transform="rotate(-90 37 1243)">39°2′N</text><text class="c" x="37" y="1418" transform="rotate(-90 37 1418)">39°0′N</text>
<text class="c" x="468" y="1251" transform="rotate(-90 468 1251)">39°2′N</text><text class="c" x="468" y="1420" transform="rotate(-90 468 1420)">39°0′N</text>
<text class="c" x="93" y="1502">110°46′E</text><text class="c" x="227" y="1502">110°48′E</text>
<text class="c" x="302" y="1502">110°46′E</text><text class="c" x="437" y="1502">110°48′E</text>
<rect x="0" y="1507" width="975" height="21" fill="#fff"/>

<!-- ================= LEGEND ================= -->
<g stroke="#7a7a7a" stroke-width="1">
<rect x="665.5" y="1294.5" width="19" height="9" fill="#fff" stroke="#333"/>
<rect x="665.5" y="1317.5" width="19" height="9" fill="#e31a1c"/>
<rect x="665.5" y="1341.5" width="19" height="9" fill="#d17cb6"/>
<rect x="665.5" y="1365.5" width="19" height="9" fill="#eeea3b"/>
<rect x="665.5" y="1389.5" width="19" height="9" fill="#7dbd2c"/>
<rect x="665.5" y="1413.5" width="19" height="9" fill="#3d9b3a"/>
<rect x="665.5" y="1436.5" width="19" height="9" fill="#1f4e9e"/>
</g>
<text class="l" x="695" y="1299">矿区边界</text>
<text class="l" x="695" y="1322">极显著负相关</text>
<text class="l" x="695" y="1346">显著负相关</text>
<text class="l" x="695" y="1370">不显著负相关</text>
<text class="l" x="695" y="1394">不显著正相关</text>
<text class="l" x="695" y="1418">显著正相关</text>
<text class="l" x="695" y="1441">极显著正相关</text>
</svg>
</body></html>
